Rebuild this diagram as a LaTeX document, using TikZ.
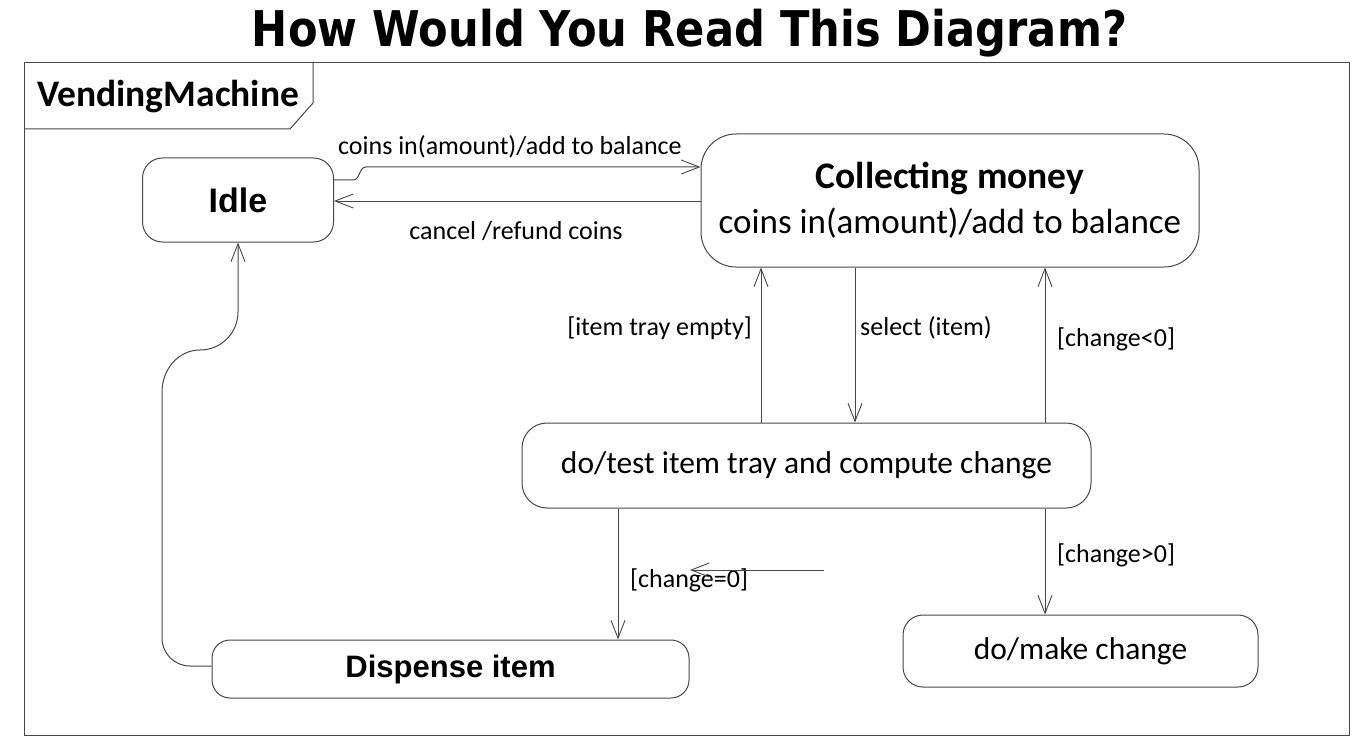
\documentclass[tikz,border=0pt]{standalone}
\usepackage{fontspec}
\setmainfont{Carlito}
\newfontfamily\arialf{Liberation Sans}
\newfontfamily\titlef{DejaVu Sans}
\usetikzlibrary{arrows.meta}
\tikzset{
  ln/.style={draw=black!72, line width=1pt},
  state/.style={ln, rounded corners=#1, inner sep=0pt, align=center},
  arr/.style={ln, -{Straight Barb[length=18pt,width=14pt,line width=0.9pt]}},
  lbl/.style={inner sep=0pt, font=\fontsize{26}{30}\selectfont},
}
\begin{document}
\begin{tikzpicture}[x=1pt,y=-1pt]
\useasboundingbox (0,0) rectangle (1372,746);
% title
\node (title) at (689.5,33) {\resizebox*{875pt}{48pt}{\titlef\bfseries How Would You Read This Diagram?}};
% frame
\draw[ln] (24,63) rectangle (1349,735);
\draw[ln] (24,129) -- (290,129) -- (313,103) -- (313,63);
\node[anchor=base west, inner sep=0pt, font=\fontsize{37.5}{42}\selectfont\bfseries] (tab) at (37,107) {VendingMachine};
% states
\node[state=20pt, minimum width=191pt, minimum height=84pt, font=\arialf\bfseries\fontsize{34}{40}\selectfont] (idle) at (238,200) {Idle};
\node[state=35pt, minimum width=498pt, minimum height=133pt, font=\fontsize{35}{45}\selectfont] (cm) at (950,200.5) {{\fontsize{37.5}{45}\selectfont\bfseries Collecting money}\\coins in(amount)/add to balance};
\node[state=25pt, minimum width=569pt, minimum height=85pt, font=\fontsize{31.5}{38}\selectfont] (test) at (806.5,465.5) {do/test item tray and compute change};
\node[state=18pt, minimum width=477pt, minimum height=58pt, font=\arialf\bfseries\fontsize{31}{36}\selectfont] (disp) at (450.5,669) {Dispense item};
\node[state=20pt, minimum width=355pt, minimum height=72pt, font=\fontsize{31.5}{38}\selectfont] (make) at (1080.5,651) {do/make change};
% transitions
\draw[arr] (idle.east |- 0,180) -- (353,180) to[out=0,in=180] (366,167) -- (cm.west |- 0,167);
\node[lbl] (l1) at (510,147) {coins in(amount)/add to balance};
\draw[arr] (cm.west |- 0,201) -- (idle.east |- 0,201);
\node[lbl] (l2) at (516,231) {cancel /refund coins};
\draw[arr] (test.north -| 761,0) -- (cm.south -| 761,0);
\node[lbl, anchor=east] (l3) at (752,328) {[item tray empty]};
\draw[arr] (cm.south -| 855,0) -- (test.north -| 855,0);
\node[lbl, anchor=west] (l4) at (860,328) {select (item)};
\draw[arr] (test.north -| 1045,0) -- (cm.south -| 1045,0);
\node[lbl, anchor=west] (l5) at (1057,339) {[change<0]};
\draw[arr] (test.south -| 1045,0) -- (make.north -| 1045,0);
\node[lbl, anchor=west] (l6) at (1057,555) {[change>0]};
\draw[arr] (test.south -| 618,0) -- (disp.north -| 618,0);
\node[lbl, anchor=west] (l7) at (630,580) {[change=0]};
\coordinate (sa) at (824,570);
\coordinate (sb) at (690,570);
\draw[arr] (sa) -- (sb);
\draw[arr] (disp.west |- 0,666) -- (190,666) to[out=180,in=270] (162,638) -- (162,392) to[out=90,in=180] (200,350) to[out=0,in=270] (238,312) -- (idle.south);
\end{tikzpicture}
\end{document}
